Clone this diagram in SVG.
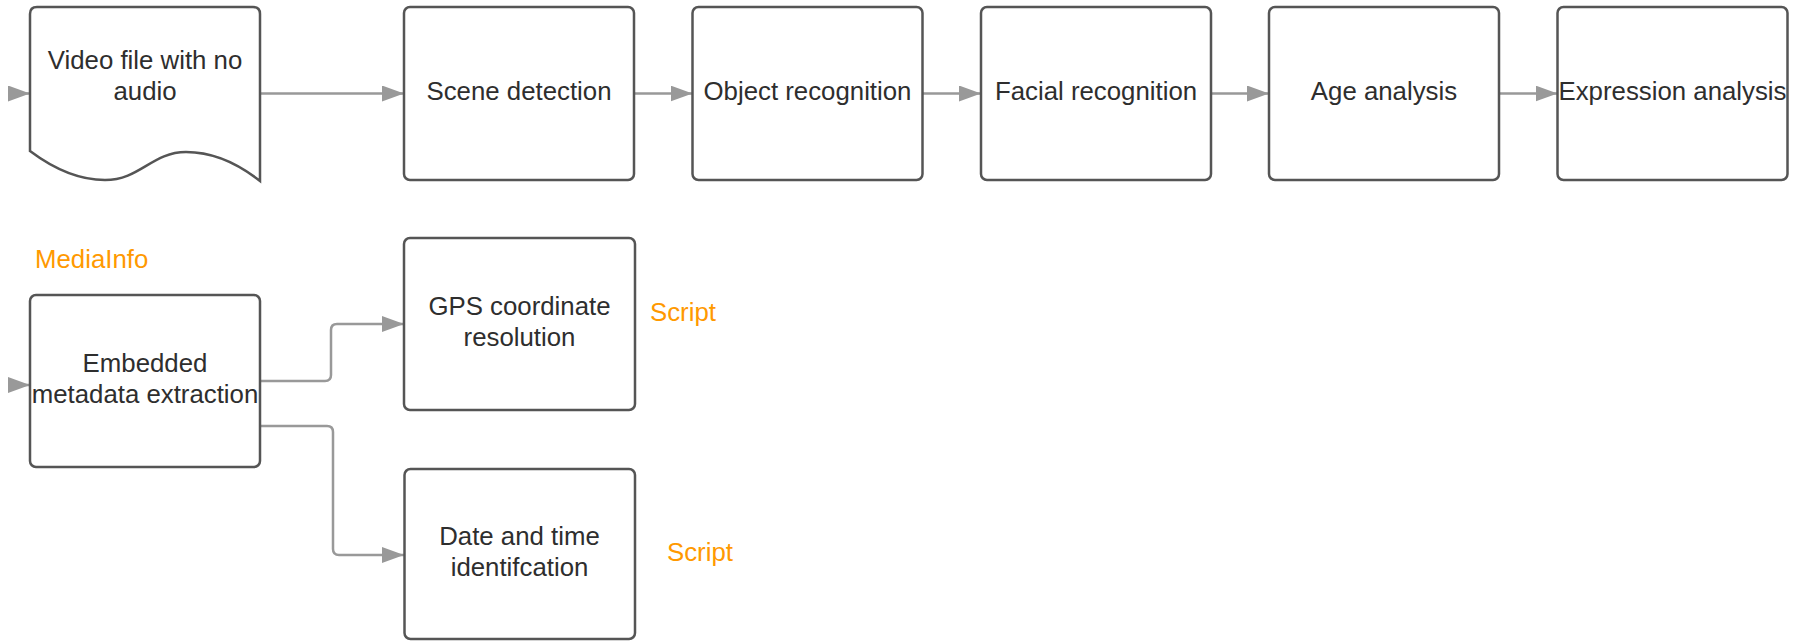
<svg xmlns="http://www.w3.org/2000/svg" width="1802" height="641" viewBox="0 0 1802 641">
  <defs>
    <marker id="arrow" viewBox="0 0 22 16" refX="22" refY="8" markerWidth="22" markerHeight="16" markerUnits="userSpaceOnUse" orient="auto">
      <path d="M0,0 L22,8 L0,16 Z" fill="#999999"/>
    </marker>
    <style>
      .box { fill: #ffffff; stroke: #555555; stroke-width: 2.5; }
      .label { font-family: "Liberation Sans", Arial, sans-serif; font-size: 25.8px; fill: #2e2e2e; text-anchor: middle; }
      .note { font-family: "Liberation Sans", Arial, sans-serif; font-size: 25.8px; fill: #ff9900; }
      .edge { fill: none; stroke: #999999; stroke-width: 2.5; marker-end: url(#arrow); }
    </style>
  </defs>
  <rect width="1802" height="641" fill="#ffffff"/>

  <!-- connectors -->
  <g id="connectors">
    <path class="edge" d="M8,93.5 H30"/>
    <path class="edge" d="M260,93.5 H404"/>
    <path class="edge" d="M634,93.5 H692.5"/>
    <path class="edge" d="M922.5,93.5 H981"/>
    <path class="edge" d="M1211,93.5 H1269"/>
    <path class="edge" d="M1499,93.5 H1557.5"/>
    <path class="edge" d="M8,385 H30"/>
    <path class="edge" d="M260,381 H325 Q331,381 331,375 V330 Q331,324 337,324 H404"/>
    <path class="edge" d="M260,426 H327 Q333,426 333,432 V549 Q333,555 339,555 H404"/>
  </g>

  <!-- top row -->
  <g id="video-file">
    <path class="box" d="M30,151 V14 Q30,7 37,7 H253 Q260,7 260,14 V181 C236,162 212,152 186,152 C152,152 140,180 105,180 C75,180 50,166 30,151 Z"/>
    <text class="label" x="145" y="69">Video file with no</text>
    <text class="label" x="145" y="100">audio</text>
  </g>
  <g id="scene-detection">
    <rect class="box" x="404" y="7" width="230" height="173" rx="6"/>
    <text class="label" x="519" y="100">Scene detection</text>
  </g>
  <g id="object-recognition">
    <rect class="box" x="692.5" y="7" width="230" height="173" rx="6"/>
    <text class="label" x="807.5" y="100">Object recognition</text>
  </g>
  <g id="facial-recognition">
    <rect class="box" x="981" y="7" width="230" height="173" rx="6"/>
    <text class="label" x="1096" y="100">Facial recognition</text>
  </g>
  <g id="age-analysis">
    <rect class="box" x="1269" y="7" width="230" height="173" rx="6"/>
    <text class="label" x="1384" y="100">Age analysis</text>
  </g>
  <g id="expression-analysis">
    <rect class="box" x="1557.5" y="7" width="230" height="173" rx="6"/>
    <text class="label" x="1672.5" y="100">Expression analysis</text>
  </g>

  <!-- metadata branch -->
  <text id="mediainfo-note" class="note" x="35" y="268">MediaInfo</text>
  <g id="metadata-extraction">
    <rect class="box" x="30" y="295" width="230" height="172" rx="6"/>
    <text class="label" x="145" y="372">Embedded</text>
    <text class="label" x="145" y="403">metadata extraction</text>
  </g>
  <g id="gps-resolution">
    <rect class="box" x="404" y="238" width="231" height="172" rx="6"/>
    <text class="label" x="519.5" y="315">GPS coordinate</text>
    <text class="label" x="519.5" y="346">resolution</text>
  </g>
  <text id="gps-script-note" class="note" x="650" y="321">Script</text>
  <g id="date-time">
    <rect class="box" x="404.5" y="469" width="230.5" height="170" rx="6"/>
    <text class="label" x="519.5" y="545">Date and time</text>
    <text class="label" x="519.5" y="576">identifcation</text>
  </g>
  <text id="date-script-note" class="note" x="667" y="561">Script</text>
</svg>
